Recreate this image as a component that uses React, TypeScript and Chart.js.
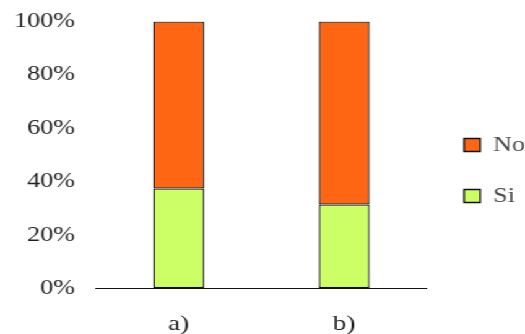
import React, { useEffect, useRef } from "react";
import { Chart, registerables } from "chart.js";

Chart.register(...registerables);

const categories = ["a)", "b)"];
const siValues = [37.5, 31.5];
const noValues = [62.5, 68.5];
const yTickValues = [0, 20, 40, 60, 80, 100];

const W = 424;
const H = 334;
const SX = 525 / W;
const FONT = "'Liberation Serif', 'Times New Roman', Times, serif";
const HIDDEN = "rgba(0,0,0,0)";

export default function App() {
  const ref = useRef<HTMLCanvasElement | null>(null);

  useEffect(() => {
    if (!ref.current) return;
    const chart = new Chart(ref.current, {
      type: "bar",
      data: {
        labels: categories,
        datasets: [
          {
            label: "Si",
            data: siValues,
            backgroundColor: "#CCFF66",
            borderColor: "#111111",
            borderWidth: 1.3,
            borderSkipped: false,
            barPercentage: 0.308,
            categoryPercentage: 1,
          },
          {
            label: "No",
            data: noValues,
            backgroundColor: "#FF6613",
            borderColor: "#111111",
            borderWidth: 1.3,
            borderSkipped: false,
            barPercentage: 0.308,
            categoryPercentage: 1,
          },
        ],
      },
      options: {
        responsive: false,
        animation: false,
        layout: { padding: { left: 2.6, right: -10, top: 0, bottom: -7 } },
        plugins: {
          legend: {
            position: "right",
            reverse: true,
            labels: {
              font: { family: FONT, size: 21 },
              color: "#4a4a4a",
              boxWidth: 13,
              boxHeight: 13,
              padding: 30,
            },
          },
          tooltip: { enabled: false },
        },
        scales: {
          x: {
            stacked: true,
            grid: {
              display: true,
              drawOnChartArea: false,
              drawTicks: true,
              tickLength: 18,
              color: HIDDEN,
            },
            border: { display: true, color: "#111111", width: 1 },
            ticks: { font: { family: FONT, size: 22 }, color: "#1f1f1f", padding: 4 },
          },
          y: {
            stacked: true,
            min: 0,
            max: 100,
            afterBuildTicks: (axis: any) => {
              axis.ticks = yTickValues.map((v) => ({ value: v }));
            },
            grid: {
              display: true,
              drawOnChartArea: false,
              drawTicks: true,
              tickLength: 8.1,
              color: HIDDEN,
            },
            border: { display: false },
            ticks: {
              font: { family: FONT, size: 21 },
              color: "#1f1f1f",
              padding: 8.9,
              callback: (v: any) => `${v}%`,
            },
          },
        },
      },
    });
    return () => chart.destroy();
  }, []);

  return (
    <div
      style={{
        position: "absolute",
        left: 0,
        top: 0,
        width: W,
        height: H,
        transform: `scaleX(${SX})`,
        transformOrigin: "0 0",
        background: "#fff",
      }}
    >
      <canvas ref={ref} width={W} height={H} />
    </div>
  );
}
